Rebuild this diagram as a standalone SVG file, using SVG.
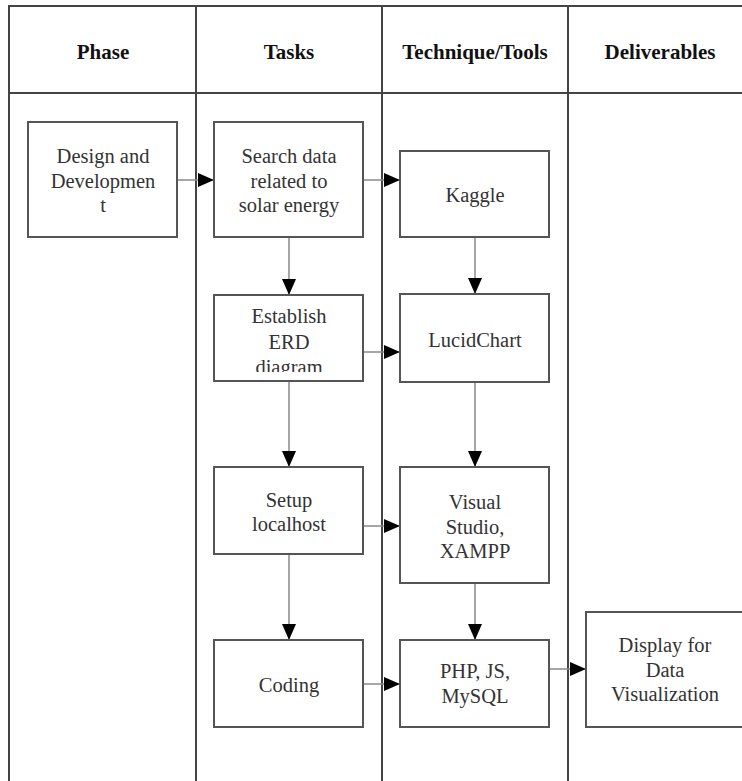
<svg xmlns="http://www.w3.org/2000/svg" width="742" height="781" viewBox="0 0 742 781">
<style>
.grid{stroke:#444;stroke-width:2;fill:none}
.box{fill:#fff;stroke:#555;stroke-width:2}
.hdr{font-family:'Liberation Serif',Tinos,'Times New Roman','DejaVu Serif',serif;font-weight:bold;font-size:21px;fill:#111;text-anchor:middle}
.txt{font-family:'Liberation Serif',Tinos,'Times New Roman','DejaVu Serif',serif;font-size:20.5px;fill:#333;text-anchor:middle}
.conn{stroke:#888;stroke-width:1.5;fill:none;marker-end:url(#ah)}
</style>
<defs>
<marker id="ah" markerUnits="userSpaceOnUse" markerWidth="16" markerHeight="16" viewBox="0 0 16 16" refX="16" refY="8" orient="auto">
<path d="M0,1 L16,8 L0,15 Z" fill="#000"/>
</marker>
<clipPath id="clipErd"><rect x="214" y="295" width="149" height="77"/></clipPath>
</defs>
<rect width="742" height="781" fill="#fff"/>
<g id="table">
<line class="grid" x1="8" y1="6" x2="742" y2="6"/>
<line class="grid" x1="8" y1="93" x2="742" y2="93"/>
<line class="grid" x1="9" y1="5" x2="9" y2="781"/>
<line class="grid" x1="196" y1="5" x2="196" y2="781"/>
<line class="grid" x1="382" y1="5" x2="382" y2="781"/>
<line class="grid" x1="568" y1="5" x2="568" y2="781"/>
<text class="hdr" x="103" y="59">Phase</text>
<text class="hdr" x="289" y="59">Tasks</text>
<text class="hdr" x="475" y="59">Technique/Tools</text>
<text class="hdr" x="660" y="59">Deliverables</text>
</g>
<g id="connectors">
<line class="conn" x1="177" y1="180" x2="214" y2="180"/>
<line class="conn" x1="363" y1="180" x2="400" y2="180"/>
<line class="conn" x1="289" y1="237" x2="289" y2="295"/>
<line class="conn" x1="475" y1="237" x2="475" y2="294"/>
<line class="conn" x1="363" y1="352" x2="400" y2="352"/>
<line class="conn" x1="289" y1="381" x2="289" y2="467"/>
<line class="conn" x1="475" y1="382" x2="475" y2="467"/>
<line class="conn" x1="363" y1="526" x2="400" y2="526"/>
<line class="conn" x1="289" y1="554" x2="289" y2="640"/>
<line class="conn" x1="475" y1="583" x2="475" y2="640"/>
<line class="conn" x1="363" y1="684" x2="400" y2="684"/>
<line class="conn" x1="549" y1="669" x2="586" y2="669"/>
</g>
<g id="design">
<rect class="box" x="28" y="122" width="149" height="115"/>
<text class="txt" x="103" y="163">Design and</text>
<text class="txt" x="103" y="188">Developmen</text>
<text class="txt" x="103" y="212">t</text>
</g>
<g id="search">
<rect class="box" x="214" y="122" width="149" height="115"/>
<text class="txt" x="289" y="163">Search data</text>
<text class="txt" x="289" y="188">related to</text>
<text class="txt" x="289" y="212">solar energy</text>
</g>
<g id="kaggle">
<rect class="box" x="400" y="151" width="149" height="86"/>
<text class="txt" x="475" y="202">Kaggle</text>
</g>
<g id="erd">
<rect class="box" x="214" y="295" width="149" height="86"/>
<g clip-path="url(#clipErd)">
<text class="txt" x="289" y="323">Establish</text>
<text class="txt" x="289" y="349">ERD</text>
<text class="txt" x="289" y="374">diagram</text>
</g>
</g>
<g id="lucid">
<rect class="box" x="400" y="294" width="149" height="88"/>
<text class="txt" x="475" y="347">LucidChart</text>
</g>
<g id="setup">
<rect class="box" x="214" y="467" width="149" height="87"/>
<text class="txt" x="289" y="507">Setup</text>
<text class="txt" x="289" y="531">localhost</text>
</g>
<g id="visual">
<rect class="box" x="400" y="467" width="149" height="116"/>
<text class="txt" x="475" y="509">Visual</text>
<text class="txt" x="475" y="534">Studio,</text>
<text class="txt" x="475" y="558">XAMPP</text>
</g>
<g id="coding">
<rect class="box" x="214" y="640" width="149" height="87"/>
<text class="txt" x="289" y="692">Coding</text>
</g>
<g id="php">
<rect class="box" x="400" y="640" width="149" height="87"/>
<text class="txt" x="475" y="678">PHP, JS,</text>
<text class="txt" x="475" y="703">MySQL</text>
</g>
<g id="display">
<rect class="box" x="586" y="612" width="160" height="115"/>
<text class="txt" x="665" y="652">Display for</text>
<text class="txt" x="665" y="677">Data</text>
<text class="txt" x="665" y="701">Visualization</text>
</g>
</svg>
